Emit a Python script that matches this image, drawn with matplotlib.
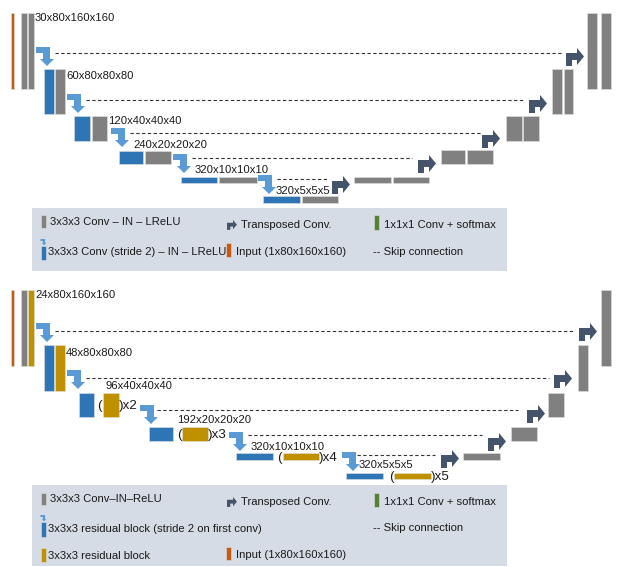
import matplotlib
matplotlib.use('Agg')
import matplotlib.pyplot as plt
from matplotlib.patches import Rectangle, Polygon

plt.rcParams['font.family'] = ['Liberation Sans', 'DejaVu Sans']

# chart text
top_labels = ['30x80x160x160', '60x80x80x80', '120x40x40x40',
              '240x20x20x20', '320x10x10x10', '320x5x5x5']
bottom_labels = ['24x80x160x160', '48x80x80x80', '96x40x40x40',
                 '192x20x20x20', '320x10x10x10', '320x5x5x5']
bottom_repeats = [0, 0, 2, 3, 4, 5]
top_legend = ['3x3x3 Conv \u2013 IN \u2013 LReLU', 'Transposed Conv.', '1x1x1 Conv + softmax',
              '3x3x3 Conv (stride 2) \u2013 IN \u2013 LReLU', 'Input (1x80x160x160)', '-- Skip connection']
bottom_legend = ['3x3x3 Conv\u2013IN\u2013ReLU', 'Transposed Conv.', '1x1x1 Conv + softmax',
                 '3x3x3 residual block (stride 2 on first conv)', '-- Skip connection',
                 '3x3x3 residual block', 'Input (1x80x160x160)']

BLUE = '#2e75b6'
GRAY = '#808080'
ORANGE = '#c55a11'
GOLD = '#bf9000'
GREEN = '#548235'
LBLUE = '#5b9bd5'
DARK = '#44546a'
BG = '#d6dce5'
TXT = '#1a1a1a'
FS = 8.1

fig = plt.figure(figsize=(6.17, 5.67), dpi=100)
ax = fig.add_axes([0, 0, 1, 1])
ax.set_xlim(0, 617)
ax.set_ylim(567, 0)
ax.axis('off')


def block(x0, x1, y0, y1, c):
    ax.add_patch(Rectangle((x0, y0), x1 - x0, y1 - y0, facecolor=c,
                           edgecolor='#e0e0e0', lw=0.4, zorder=3))


def down_arrow(x, y, s=1.0):
    pts = [(0, 0), (14, 0), (14, 12), (18, 12), (11, 19), (4, 12), (7, 12), (7, 6), (0, 6)]
    ax.add_patch(Polygon([(x + px * s, y + py * s) for px, py in pts],
                         closed=True, facecolor=LBLUE, edgecolor='none', zorder=4))


def up_arrow(x, y, s=1.0):
    pts = [(0, 18), (0, 5), (11, 5), (11, 0), (18, 8.5), (11, 17), (11, 12), (6, 12), (6, 18)]
    ax.add_patch(Polygon([(x + px * s, y + py * s) for px, py in pts],
                         closed=True, facecolor=DARK, edgecolor='none', zorder=4))


def skip(x0, x1, y):
    ax.plot([x0, x1], [y, y], color='#333333', lw=0.8, dashes=(3, 2.2), zorder=2)


def label(x, y, s, fs=FS):
    ax.text(x, y, s, fontsize=fs, color=TXT, va='center', ha='left', zorder=5)


# ---------------- top network ----------------
block(11, 14, 13, 89, ORANGE)
block(21, 27, 13, 89, GRAY)
block(28, 34, 13, 89, GRAY)
enc_top = [(44, 54, 55, 65, 69, 114), (74, 90, 92, 107, 116, 141),
           (119, 143, 145, 171, 151, 164), (181, 217, 219, 257, 177, 183),
           (263, 300, 302, 338, 196, 203)]
for b0, b1, g0, g1, y0, y1 in enc_top:
    block(b0, b1, y0, y1, BLUE)
    block(g0, g1, y0, y1, GRAY)
lab_pos = [(35, 18), (66, 76), (108, 121), (133, 145), (195, 170), (276, 191)]
for (x, y), s in zip(lab_pos, top_labels):
    label(x, y, s)
for x, y in [(36, 47), (67, 94), (111, 128), (173, 154), (258, 175)]:
    down_arrow(x, y)
for x0, x1, y in [(55, 563, 53), (86, 523, 100), (130, 482, 133), (192, 412, 158), (277, 328, 179)]:
    skip(x0, x1, y)
for x, y in [(566, 48), (529, 95), (482, 130), (418, 155), (332, 176)]:
    up_arrow(x, y)
dec_top = [(587, 597, 601, 611, 13, 89), (552, 562, 564, 573, 69, 114),
           (506, 522, 523, 539, 116, 141), (441, 465, 467, 493, 150, 164),
           (354, 391, 393, 429, 177, 183)]
for a0, a1, c0, c1, y0, y1 in dec_top:
    block(a0, a1, y0, y1, GRAY)
    block(c0, c1, y0, y1, GRAY)

# top legend
ax.add_patch(Rectangle((32, 208), 475, 63, facecolor=BG, edgecolor='none', zorder=1))
block(41, 46, 215, 228, GRAY)
label(50, 222, top_legend[0])
up_arrow(227, 220, 0.55)
label(241, 225, top_legend[1])
block(374, 379, 215, 230, GREEN)
label(384, 225, top_legend[2])
down_arrow(40.5, 239, 0.33)
block(41, 46, 246, 260, BLUE)
label(48, 252, top_legend[3])
block(226, 231, 243, 257, ORANGE)
label(236, 252, top_legend[4])
label(373, 252, top_legend[5])

# ---------------- bottom network ----------------
block(11, 14, 290, 366, ORANGE)
block(21, 27, 290, 366, GRAY)
block(28, 34, 290, 366, GOLD)
block(44, 54, 345, 391, BLUE)
block(55, 65, 345, 391, GOLD)
enc_bot = [(79, 94, 98, 103, 119, 393, 417), (149, 173, 178, 182, 208, 427, 441),
           (236, 273, 278, 283, 319, 453, 460), (346, 383, 390, 394, 431, 473, 479)]
for (b0, b1, p, g0, g1, y0, y1), n in zip(enc_bot, bottom_repeats[2:]):
    block(b0, b1, y0, y1, BLUE)
    block(g0, g1, y0, y1, GOLD)
    ym = (y0 + y1) / 2 + 1
    ax.text(p - 0.5, ym, '(', fontsize=9.6, color=TXT, va='center', ha='left', zorder=5)
    ax.text(g1, ym, ')x%d' % n, fontsize=9.6, color=TXT, va='center', ha='left', zorder=5)
lab_pos = [(35, 295), (66, 353), (106, 386), (177, 420), (251, 447), (359, 465)]
for (x, y), s in zip(lab_pos, bottom_labels):
    label(x, y, s)
for x, y in [(36, 323), (67, 370), (140, 405), (229, 432), (342, 452)]:
    down_arrow(x, y)
for x0, x1, y in [(55, 575, 331), (86, 549, 378), (157, 518, 410), (248, 482, 435), (357, 435, 455)]:
    skip(x0, x1, y)
for x, y in [(579, 323), (554, 370), (527, 405), (488, 433), (441, 450)]:
    up_arrow(x, y)
for a0, a1, y0, y1 in [(601, 611, 290, 366), (578, 588, 345, 391), (548, 564, 393, 417),
                       (511, 537, 427, 441), (463, 500, 453, 460)]:
    block(a0, a1, y0, y1, GRAY)

# bottom legend
ax.add_patch(Rectangle((32, 485), 475, 81, facecolor=BG, edgecolor='none', zorder=1))
block(41, 46, 493, 505, GRAY)
label(50, 499, bottom_legend[0])
up_arrow(227, 497, 0.55)
label(241, 502, bottom_legend[1])
block(374, 379, 493, 507, GREEN)
label(384, 502, bottom_legend[2])
down_arrow(40.5, 515, 0.33)
block(41, 46, 522, 537, BLUE)
label(48, 529, bottom_legend[3])
label(373, 528, bottom_legend[4])
block(41, 46, 548, 562, GOLD)
label(48, 556, bottom_legend[5])
block(226, 231, 547, 560, ORANGE)
label(236, 555, bottom_legend[6])

fig.savefig('out.png', dpi=100)
